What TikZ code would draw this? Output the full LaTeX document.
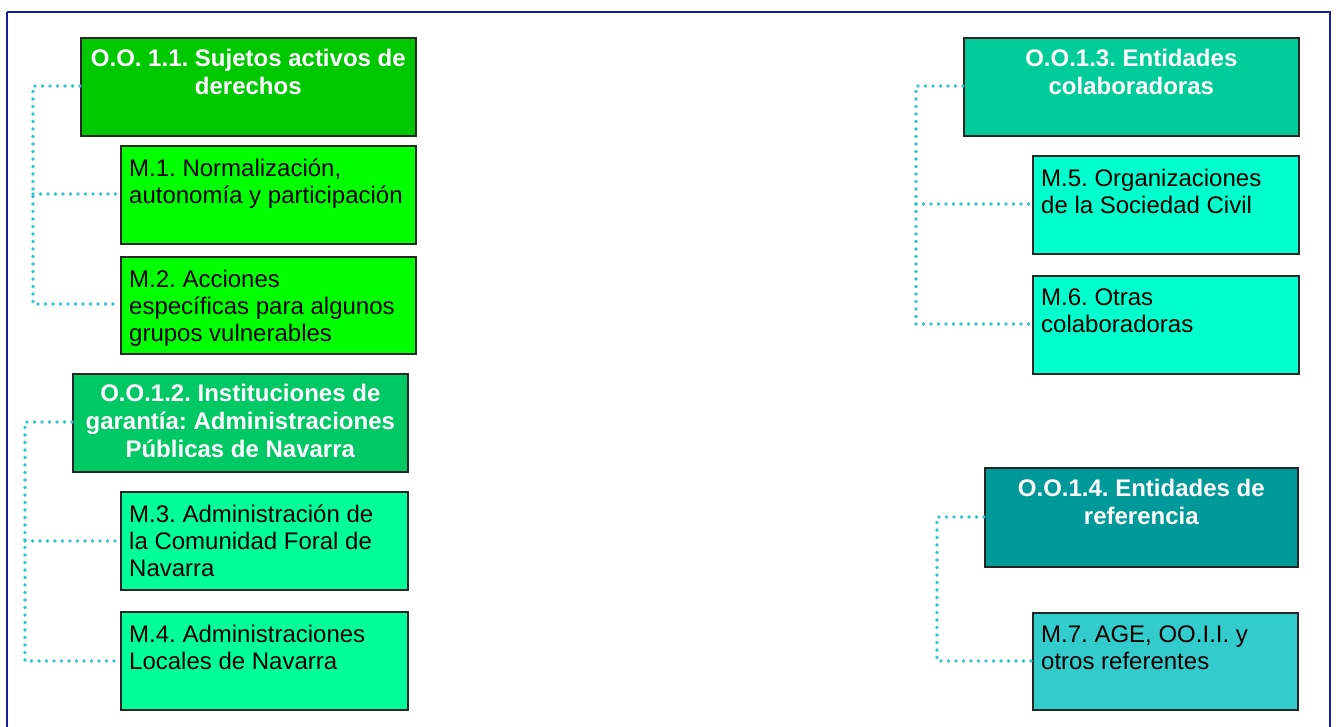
\documentclass[tikz,border=0pt]{standalone}
\usepackage{fontspec}
\setmainfont{Liberation Sans}
\frenchspacing
\definecolor{frameblue}{HTML}{1C1C9C}
\definecolor{dotc}{HTML}{2EC4CE}
\definecolor{cA}{HTML}{00C800}
\definecolor{cB}{HTML}{00FF00}
\definecolor{cC}{HTML}{00C864}
\definecolor{cD}{HTML}{00FF99}
\definecolor{cE}{HTML}{00CC99}
\definecolor{cF}{HTML}{00FFCC}
\definecolor{cG}{HTML}{009999}
\definecolor{cH}{HTML}{33CCCC}
\tikzset{
  boxs/.style={draw=black!85, line width=1.6pt, rectangle, inner sep=0pt, anchor=north west},
  ttext/.style={font=\fontsize{24}{28}\selectfont\bfseries, text=white, align=center, anchor=north, inner sep=0pt},
  mtext/.style={font=\fontsize{24}{27}\selectfont, text=black, align=left, anchor=north west, inner sep=0pt},
  dotline/.style={draw=dotc, line width=3.8pt, line cap=round, dash pattern=on 0pt off 7.5pt},
}
\begin{document}
\begin{tikzpicture}[x=1pt,y=-1pt]
\useasboundingbox (0,0) rectangle (1336,727);
\draw[frameblue, line width=2pt] (7,12) -- (1330,12) -- (1330,740);
\draw[frameblue, line width=2pt] (7,12) -- (7,740);

% Group 1
\node[boxs, fill=cA, minimum width=335, minimum height=98] (oo1) at (80,37) {};
\node[ttext] (oo1t) at ([yshift=-12]oo1.north) {O.O. 1.1. Sujetos activos de\\derechos};
\node[boxs, fill=cB, minimum width=295, minimum height=98] (m1) at (120,145) {};
\node[mtext] (m1t) at ([xshift=9,yshift=-14]m1.north west) {M.1. Normalización,\\autonomía y participación};
\node[boxs, fill=cB, minimum width=295, minimum height=97] (m2) at (120,256) {};
\node[mtext] (m2t) at ([xshift=9,yshift=-14]m2.north west) {M.2. Acciones\\específicas para algunos\\grupos vulnerables};

% Group 2
\node[boxs, fill=cC, minimum width=335, minimum height=98] (oo2) at (72,373) {};
\node[ttext] (oo2t) at ([yshift=-11]oo2.north) {O.O.1.2. Instituciones de\\garantía: Administraciones\\Públicas de Navarra};
\node[boxs, fill=cD, minimum width=287, minimum height=98] (m3) at (120,491) {};
\node[mtext] (m3t) at ([xshift=9,yshift=-14]m3.north west) {M.3. Administración de\\la Comunidad Foral de\\Navarra};
\node[boxs, fill=cD, minimum width=287, minimum height=98] (m4) at (120,611) {};
\node[mtext] (m4t) at ([xshift=9,yshift=-14]m4.north west) {M.4. Administraciones\\Locales de Navarra};

% Group 3
\node[boxs, fill=cE, minimum width=335, minimum height=98] (oo3) at (963,37) {};
\node[ttext] (oo3t) at ([yshift=-12]oo3.north) {O.O.1.3. Entidades\\colaboradoras};
\node[boxs, fill=cF, minimum width=266, minimum height=98] (m5) at (1032,155) {};
\node[mtext] (m5t) at ([xshift=9,yshift=-14]m5.north west) {M.5. Organizaciones\\de la Sociedad Civil};
\node[boxs, fill=cF, minimum width=266, minimum height=98] (m6) at (1032,275) {};
\node[mtext] (m6t) at ([xshift=9,yshift=-14]m6.north west) {M.6. Otras\\colaboradoras};

% Group 4
\node[boxs, fill=cG, minimum width=313, minimum height=99] (oo4) at (984,467) {};
\node[ttext] (oo4t) at ([yshift=-12]oo4.north) {O.O.1.4. Entidades de\\referencia};
\node[boxs, fill=cH, minimum width=265, minimum height=97] (m7) at (1032,612) {};
\node[mtext] (m7t) at ([xshift=9,yshift=-14]m7.north west) {M.7. AGE, OO.I.I. y\\otros referentes};

% connectors
\coordinate (j1) at (33,0);
\draw[dotline] (oo1.west |- 0,86) -| (j1 |- 0,304) -- (m2.west |- 0,304);
\draw[dotline] (j1 |- 0,194) -- (m1.west |- 0,194);

\coordinate (j2) at (25,0);
\draw[dotline] (oo2.west |- 0,422) -| (j2 |- 0,661) -- (m4.west |- 0,661);
\draw[dotline] (j2 |- 0,541) -- (m3.west |- 0,541);

\coordinate (j3) at (916,0);
\draw[dotline] (oo3.west |- 0,86) -| (j3 |- 0,324) -- (m6.west |- 0,324);
\draw[dotline] (j3 |- 0,204) -- (m5.west |- 0,204);

\coordinate (j4) at (937,0);
\draw[dotline] (oo4.west |- 0,517) -| (j4 |- 0,661) -- (m7.west |- 0,661);
\end{tikzpicture}
\end{document}
